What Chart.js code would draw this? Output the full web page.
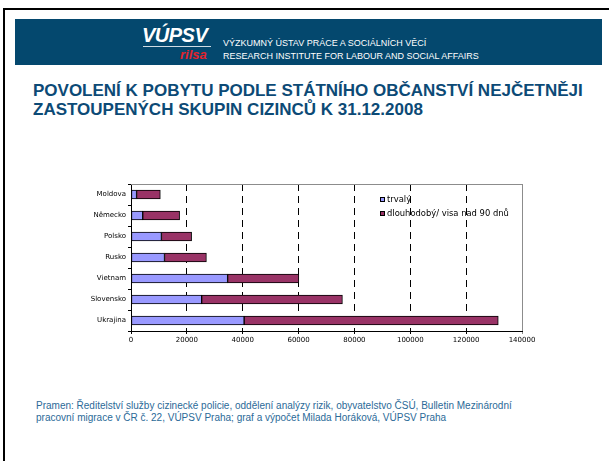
<!DOCTYPE html>
<html>
<head>
<meta charset="utf-8">
<script src="https://cdn.jsdelivr.net/npm/chart.js@4"></script>
<style>
  html, body { margin: 0; padding: 0; background: #fff; }
  #page { position: relative; width: 609px; height: 461px; overflow: hidden; font-family: "Liberation Sans", Arial, sans-serif; }
  .frameTop { position: absolute; left: 3px; top: 8px; width: 606px; height: 2px; background: #000; }
  .frameLeft { position: absolute; left: 3px; top: 8px; width: 2px; height: 453px; background: #000; }
  .banner { position: absolute; left: 15px; top: 19px; width: 587px; height: 46px; background: #04486e; }
  .logo { position: absolute; left: 142px; top: 24px; color: #fff; font: italic bold 20px "Liberation Sans", Arial, sans-serif; letter-spacing: -0.5px; }
  .logoLine { position: absolute; left: 143px; top: 46px; width: 68px; height: 1px; background: #cfdbe4; }
  .rilsa { position: absolute; left: 180px; top: 47px; color: #e3232c; font: italic bold 13px "Liberation Sans", Arial, sans-serif; }
  .inst { position: absolute; left: 223px; color: #fff; font: 9px "Liberation Sans Narrow", "Liberation Sans", sans-serif; white-space: nowrap; }
  .title { position: absolute; left: 33px; top: 81px; color: #0c4a76; font: bold 17px "Liberation Sans", Arial, sans-serif; line-height: 19px; white-space: nowrap; }
  .source { position: absolute; left: 36px; top: 400px; color: #2b6a98; font: 10px "Liberation Sans", Arial, sans-serif; line-height: 12px; white-space: nowrap; }
  #wrap { position: absolute; left: 70px; top: 176px; width: 472px; height: 171px; }
</style>
</head>
<body>
<div id="page">
  <div class="frameTop"></div>
  <div class="frameLeft"></div>
  <div class="banner"></div>
  <div class="logo">VÚPSV</div>
  <div class="logoLine"></div>
  <div class="rilsa">rilsa</div>
  <div class="inst" style="top:38px">VÝZKUMNÝ ÚSTAV PRÁCE A SOCIÁLNÍCH VĚCÍ</div>
  <div class="inst" style="top:51px">RESEARCH INSTITUTE FOR LABOUR AND SOCIAL AFFAIRS</div>
  <div class="title">POVOLENÍ K POBYTU PODLE STÁTNÍHO OBČANSTVÍ NEJČETNĚJI<br>ZASTOUPENÝCH SKUPIN CIZINCŮ K 31.12.2008</div>
  <div class="source">Pramen: Ředitelství služby cizinecké policie, oddělení analýzy rizik, obyvatelstvo ČSÚ, Bulletin Mezinárodní<br>pracovní migrace v ČR č. 22, VÚPSV Praha; graf a výpočet Milada Horáková, VÚPSV Praha</div>
  <div id="wrap"><canvas id="permitChart"></canvas></div>
</div>
<script>
// values
const countries = ["Moldova", "Německo", "Polsko", "Rusko", "Vietnam", "Slovensko", "Ukrajina"];
const trvaly = [2000, 4200, 10900, 12000, 34600, 25300, 40500];
const dlouhodoby = [8500, 13200, 10800, 15000, 25500, 50400, 91000];
const seriesNames = ["trvalý", "dlouhodobý/ visa nad 90 dnů"];
const xTicks = [0, 20000, 40000, 60000, 80000, 100000, 120000, 140000];

const colors = {
  lilac: "#9999ff",
  plum: "#993366",
  frame: "#8c8c8c",
};

const tickFont = { family: "'DejaVu Sans', Verdana, sans-serif", size: 7 };

// top/right plot frame + legend inside the plot area
const plotExtras = {
  id: "plotExtras",
  afterDraw(chart) {
    const { ctx, chartArea: a } = chart;
    ctx.save();
    ctx.strokeStyle = colors.frame;
    ctx.lineWidth = 1;
    ctx.beginPath();
    ctx.moveTo(a.left, a.top + 0.5);
    ctx.lineTo(a.right + 0.5, a.top + 0.5);
    ctx.lineTo(a.right + 0.5, a.bottom);
    ctx.stroke();

    ctx.font = "8.4px 'DejaVu Sans', Verdana, sans-serif";
    ctx.textBaseline = "middle";
    chart.data.datasets.forEach((ds, i) => {
      const x = a.left + 249;
      const y = a.top + 13 + i * 14;
      ctx.fillStyle = ds.backgroundColor;
      ctx.fillRect(x, y, 4, 4);
      ctx.strokeStyle = "#000";
      ctx.strokeRect(x + 0.5, y + 0.5, 4, 4);
      ctx.fillStyle = "#000";
      ctx.fillText(ds.label, x + 7, y + 2.5);
    });
    ctx.restore();
  },
};

new Chart(document.getElementById("permitChart").getContext("2d"), {
  type: "bar",
  data: {
    labels: countries,
    datasets: [
      {
        label: seriesNames[0],
        data: trvaly,
        backgroundColor: colors.lilac,
        borderColor: "#000",
        borderWidth: 1,
        borderSkipped: false,
        barThickness: 9,
      },
      {
        label: seriesNames[1],
        data: dlouhodoby,
        backgroundColor: colors.plum,
        borderColor: "#000",
        borderWidth: 1,
        borderSkipped: false,
        barThickness: 9,
      },
    ],
  },
  options: {
    indexAxis: "y",
    responsive: true,
    maintainAspectRatio: false,
    animation: false,
    layout: { padding: { top: 8, right: 20, bottom: 0, left: 0 } },
    plugins: {
      legend: { display: false },
      tooltip: { enabled: false },
    },
    scales: {
      x: {
        stacked: true,
        min: 0,
        max: 140000,
        afterBuildTicks: (scale) => {
          scale.ticks = xTicks.map((v) => ({ value: v }));
        },
        afterFit: (scale) => {
          scale.height = 16;
        },
        ticks: {
          color: "#000",
          font: tickFont,
          padding: 2,
          maxRotation: 0,
          minRotation: 0,
          autoSkip: false,
          callback: (v) => String(v),
        },
        grid: {
          color: (c) => (c.tick && c.tick.value === 140000 ? colors.frame : "#000"),
          lineWidth: 1,
          tickLength: 3,
        },
        border: { color: "#000", width: 1, dash: [7, 5] },
      },
      y: {
        stacked: true,
        afterFit: (scale) => {
          scale.width = 61;
        },
        ticks: {
          color: "#000",
          font: tickFont,
          padding: 2,
        },
        grid: {
          offset: true,
          drawOnChartArea: false,
          color: "#000",
          tickLength: 3,
        },
        border: { color: "#000", width: 1 },
      },
    },
  },
  plugins: [plotExtras],
});
</script>
</body>
</html>
